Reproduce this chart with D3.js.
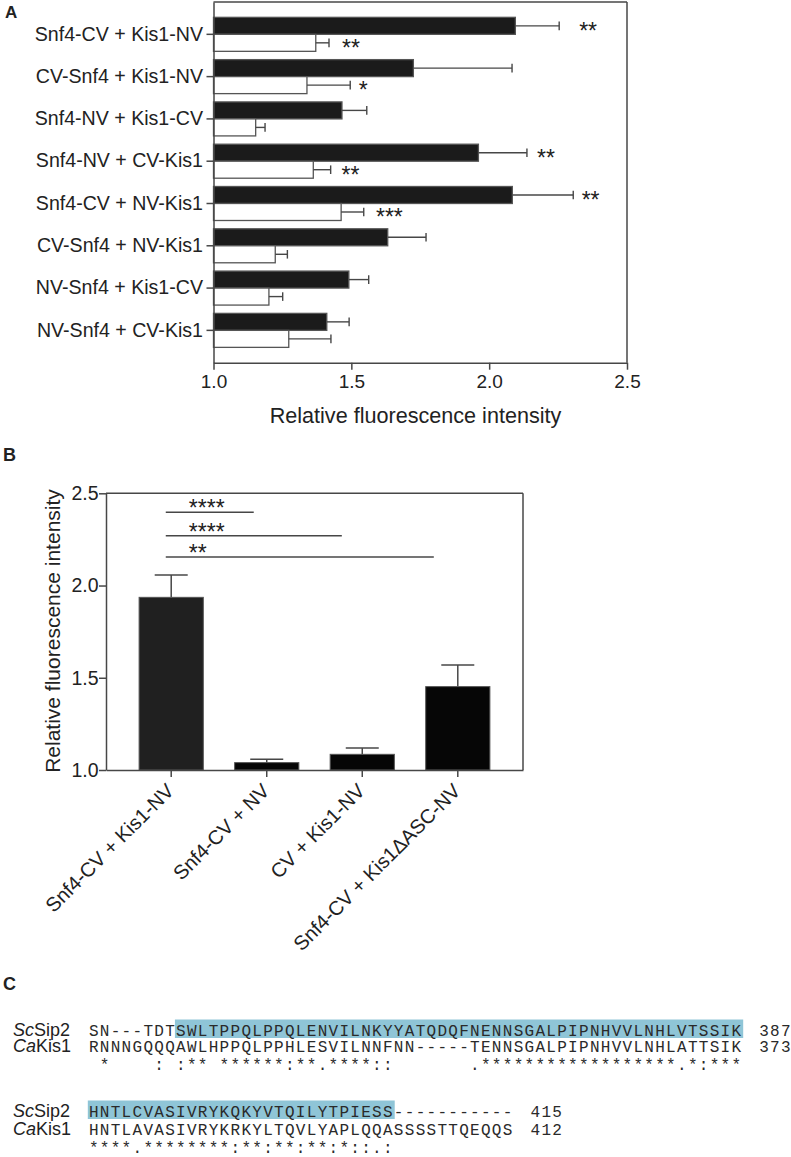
<!DOCTYPE html>
<html><head><meta charset="utf-8">
<script src="https://cdn.jsdelivr.net/npm/d3@7"></script>
<style>
body{margin:0;background:#fff}
svg{display:block}
text{font-family:"Liberation Sans",Arial,Helvetica,sans-serif;fill:#222}
.mono{font-family:"Liberation Mono","DejaVu Sans Mono",monospace;fill:#2a2a2a}
</style>
</head><body>
<svg id="fig" width="791" height="1157"></svg>
<script>
// ---------- Panel A data ----------
const aCategories = ["Snf4-CV + Kis1-NV","CV-Snf4 + Kis1-NV","Snf4-NV + Kis1-CV","Snf4-NV + CV-Kis1",
                     "Snf4-CV + NV-Kis1","CV-Snf4 + NV-Kis1","NV-Snf4 + Kis1-CV","NV-Snf4 + CV-Kis1"];
const aBlackMean = [2.095,1.725,1.466,1.961,2.084,1.632,1.491,1.411];
const aBlackSEM  = [0.159,0.358,0.090,0.176,0.221,0.139,0.072,0.081];
const aWhiteMean = [1.371,1.339,1.153,1.362,1.463,1.224,1.201,1.273];
const aWhiteSEM  = [0.048,0.157,0.034,0.063,0.082,0.044,0.050,0.153];
const aBlackSig  = ["**","","","**","**","","",""];
const aBlackSigAt= [2.359,null,null,2.206,2.368,null,null,null];
const aWhiteSig  = ["**","*","","**","***","","",""];
const aWhiteSigAt= [1.499,1.543,null,1.497,1.638,null,null,null];
const aTicks = [1.0,1.5,2.0,2.5];
const aTitle = "Relative fluorescence intensity";

// ---------- Panel B data ----------
const bCategories = ["Snf4-CV + Kis1-NV","Snf4-CV + NV","CV + Kis1-NV","Snf4-CV + Kis1\u0394ASC-NV"];
const bMean = [1.936,1.040,1.085,1.452];
const bSEM  = [0.121,0.018,0.034,0.117];
const bTicks = [1.0,1.5,2.0,2.5];
const bSigLabel = ["****","****","**"];
const bSigLevel = [2.397,2.270,2.155];
const bSigFrom  = [-0.057,-0.057,-0.057];   // in category-index units
const bSigTo    = [0.864,1.786,2.749];
const bTitle = "Relative fluorescence intensity";

// ---------- Panel C data ----------
const cSeqSc = ["SN---TDTSWLTPPQLPPQLENVILNKYYATQDQFNENNSGALPIPNHVVLNHLVTSSIK",
                "HNTLCVASIVRYKQKYVTQILYTPIESS-----------"];
const cSeqCa = ["RNNNGQQQAWLHPPQLPPHLESVILNNFNN-----TENNSGALPIPNHVVLNHLATTSIK",
                "HNTLAVASIVRYKRKYLTQVLYAPLQQASSSSTTQEQQS"];
const cCons  = [" *    : :** ******:**.****::       .******************.*:***",
                "****.********:**:**:**:*::.:"];
const cEndSc = [387,415];
const cEndCa = [373,412];
const cHighlight = [[8,60],[0,28]];

// ---------- drawing ----------
const svg = d3.select("#fig");
const LINE = "#474747";
const FONT = '"Liberation Sans",Arial,Helvetica,sans-serif';

function styleAxis(g, size){
  g.attr("font-family", FONT).attr("font-size", size);
  g.selectAll("path.domain").attr("stroke", LINE).attr("stroke-width", 1.5);
  g.selectAll(".tick line").attr("stroke", LINE).attr("stroke-width", 1.5);
  g.selectAll(".tick text").attr("fill", "#222");
}

// Panel labels
svg.append("text").attr("x",5).attr("y",18).attr("font-size",17).attr("font-weight","bold").text("A");
svg.append("text").attr("x",3).attr("y",461).attr("font-size",18).attr("font-weight","bold").text("B");
svg.append("text").attr("x",3).attr("y",990).attr("font-size",18).attr("font-weight","bold").text("C");

// ===== Panel A =====
(function(){
  const x0=213.5, x1=627, y0=2, y1=362.7;
  const x = d3.scaleLinear().domain([1,2.5]).range([x0,x1]);
  const y = d3.scaleBand().domain(aCategories).range([y0,y1]).paddingInner(0.196).paddingOuter(0.3625);
  const bh = y.bandwidth()/2;
  const g = svg.append("g");
  const rows = aCategories.map((c,i)=>({c,i}));

  g.append("line").attr("x1",x0).attr("x2",x1).attr("y1",y0).attr("y2",y0).attr("stroke",LINE).attr("stroke-width",1.5);
  g.append("line").attr("x1",x1).attr("x2",x1).attr("y1",y0).attr("y2",y1).attr("stroke",LINE).attr("stroke-width",1.5);

  const series = [
    {mean:aBlackMean, sem:aBlackSEM, sig:aBlackSig, sigAt:aBlackSigAt, off:0, fill:"#1b1b1b"},
    {mean:aWhiteMean, sem:aWhiteSEM, sig:aWhiteSig, sigAt:aWhiteSigAt, off:1, fill:"#ffffff"}
  ];
  series.forEach(s=>{
    g.selectAll(null).data(rows).join("rect")
      .attr("x", x(1)).attr("y", d=>y(d.c)+s.off*bh)
      .attr("width", d=>x(s.mean[d.i])-x(1)).attr("height", bh)
      .attr("fill", s.fill).attr("stroke","#555").attr("stroke-width",1.3);
    g.selectAll(null).data(rows).join("line")
      .attr("x1", d=>x(s.mean[d.i])).attr("x2", d=>x(s.mean[d.i]+s.sem[d.i]))
      .attr("y1", d=>y(d.c)+s.off*bh+bh/2).attr("y2", d=>y(d.c)+s.off*bh+bh/2)
      .attr("stroke",LINE).attr("stroke-width",1.4);
    g.selectAll(null).data(rows).join("line")
      .attr("x1", d=>x(s.mean[d.i]+s.sem[d.i])).attr("x2", d=>x(s.mean[d.i]+s.sem[d.i]))
      .attr("y1", d=>y(d.c)+s.off*bh+bh/2-4.3).attr("y2", d=>y(d.c)+s.off*bh+bh/2+4.3)
      .attr("stroke",LINE).attr("stroke-width",1.4);
    g.selectAll(null).data(rows.filter(d=>s.sig[d.i])).join("text")
      .attr("x", d=>x(s.sigAt[d.i])).attr("y", d=>y(d.c)+s.off*bh+bh/2+13)
      .attr("text-anchor","middle").attr("font-size",23).text(d=>s.sig[d.i]);
  });

  const ax = g.append("g").attr("transform",`translate(${x0},0)`)
    .call(d3.axisLeft(y).tickSize(7).tickSizeOuter(0).tickPadding(3.5));
  styleAxis(ax, 19.6);
  const bx = g.append("g").attr("transform",`translate(0,${y1})`)
    .call(d3.axisBottom(x).tickValues(aTicks).tickFormat(d3.format(".1f")).tickSize(7).tickSizeOuter(0).tickPadding(5.3));
  styleAxis(bx, 19);
  g.append("text").attr("x",415.5).attr("y",423).attr("text-anchor","middle").attr("font-size",21.6).text(aTitle);
})();

// ===== Panel B =====
(function(){
  const x0=106, x1=523, y0=493.3, y1=770;
  const x = d3.scaleBand().domain(bCategories).range([x0,x1]).paddingInner(0.328).paddingOuter(0.3466);
  const y = d3.scaleLinear().domain([1,2.5]).range([y1,y0]);
  const bw = x.bandwidth();
  const idx = d3.scaleLinear().domain([0,1]).range([x(bCategories[0])+bw/2, x(bCategories[1])+bw/2]);
  const g = svg.append("g");
  const rows = bCategories.map((c,i)=>({c,i}));
  const fills = ["#202020","#060606","#060606","#060606"];

  g.append("line").attr("x1",x0).attr("x2",x1).attr("y1",y0).attr("y2",y0).attr("stroke",LINE).attr("stroke-width",1.5);
  g.append("line").attr("x1",x1).attr("x2",x1).attr("y1",y0).attr("y2",y1).attr("stroke",LINE).attr("stroke-width",1.5);

  g.selectAll(null).data(rows).join("line")
    .attr("x1",d=>x(d.c)+bw/2).attr("x2",d=>x(d.c)+bw/2)
    .attr("y1",d=>y(bMean[d.i])).attr("y2",d=>y(bMean[d.i]+bSEM[d.i]))
    .attr("stroke",LINE).attr("stroke-width",1.5);
  g.selectAll(null).data(rows).join("line")
    .attr("x1",d=>x(d.c)+bw/2-16.5).attr("x2",d=>x(d.c)+bw/2+16.5)
    .attr("y1",d=>y(bMean[d.i]+bSEM[d.i])).attr("y2",d=>y(bMean[d.i]+bSEM[d.i]))
    .attr("stroke",LINE).attr("stroke-width",1.5);
  g.selectAll(null).data(rows).join("rect")
    .attr("x",d=>x(d.c)).attr("width",bw)
    .attr("y",d=>y(bMean[d.i])).attr("height",d=>y(1)-y(bMean[d.i]))
    .attr("fill",(d)=>fills[d.i]).attr("stroke","#555").attr("stroke-width",1);

  const sig = bSigLabel.map((l,i)=>({l,i}));
  g.selectAll(null).data(sig).join("line")
    .attr("x1",d=>idx(bSigFrom[d.i])).attr("x2",d=>idx(bSigTo[d.i]))
    .attr("y1",d=>y(bSigLevel[d.i])).attr("y2",d=>y(bSigLevel[d.i]))
    .attr("stroke",LINE).attr("stroke-width",1.4);
  g.selectAll(null).data(sig).join("text")
    .attr("x",idx(0.2)-1.5).attr("y",d=>y(bSigLevel[d.i])+4)
    .attr("font-size",23).text(d=>d.l);

  const ay = g.append("g").attr("transform",`translate(${x0},0)`)
    .call(d3.axisLeft(y).tickValues(bTicks).tickFormat(d3.format(".1f")).tickSize(7).tickSizeOuter(0).tickPadding(0.5));
  styleAxis(ay, 19.5);
  const ab = g.append("g").attr("transform",`translate(0,${y1})`)
    .call(d3.axisBottom(x).tickSize(7).tickSizeOuter(0));
  styleAxis(ab, 20);
  ab.selectAll(".tick text").attr("x",0).attr("y",0).attr("dy",0)
    .attr("text-anchor","end").attr("transform","translate(4,22) rotate(-45)");
  g.append("text").attr("transform","translate(60,631) rotate(-90)")
    .attr("text-anchor","middle").attr("font-size",21).text(bTitle);
})();

// ===== Panel C =====
(function(){
  const col = d3.scaleLinear().domain([0,60]).range([88.3,741.7]);
  const cw = col(1)-col(0);
  const blocks = [[1036,1052,1070],[1117,1134.5,1152.5]];
  const g = svg.append("g");
  blocks.forEach((yy,b)=>{
    g.append("rect").attr("x",col(cHighlight[b][0])-0.5).attr("width",col(cHighlight[b][1])-col(cHighlight[b][0])+2)
      .attr("y",yy[0]-16.5).attr("height",18.5).attr("fill","#8fc5d7");
    const l1 = g.append("text").attr("x",13).attr("y",yy[0]).attr("font-size",18);
    l1.append("tspan").attr("font-style","italic").text("Sc"); l1.append("tspan").text("Sip2");
    const l2 = g.append("text").attr("x",13).attr("y",yy[1]).attr("font-size",18);
    l2.append("tspan").attr("font-style","italic").text("Ca"); l2.append("tspan").text("Kis1");
    const lines = [[cSeqSc[b],yy[0]],[cSeqCa[b],yy[1]],[cCons[b],yy[2]]];
    lines.forEach(([s,yv])=>{
      const chars = s.split("").map((ch,i)=>({ch,i})).filter(d=>d.ch!==" ");
      g.selectAll(null).data(chars).join("text").attr("class","mono")
        .attr("x",d=>col(d.i)+cw/2).attr("y",yv).attr("text-anchor","middle")
        .attr("font-size",16).text(d=>d.ch);
    });
    [[cEndSc[b],yy[0],cSeqSc[b].length],[cEndCa[b],yy[1],cSeqCa[b].length]].forEach(([n,yv,len])=>{
      const digits = String(n).split("").map((ch,i)=>({ch,i}));
      g.selectAll(null).data(digits).join("text").attr("class","mono")
        .attr("x",d=>col(len+1.55+d.i)+cw/2).attr("y",yv).attr("text-anchor","middle")
        .attr("font-size",16).text(d=>d.ch);
    });
  });
})();
</script>
</body></html>
